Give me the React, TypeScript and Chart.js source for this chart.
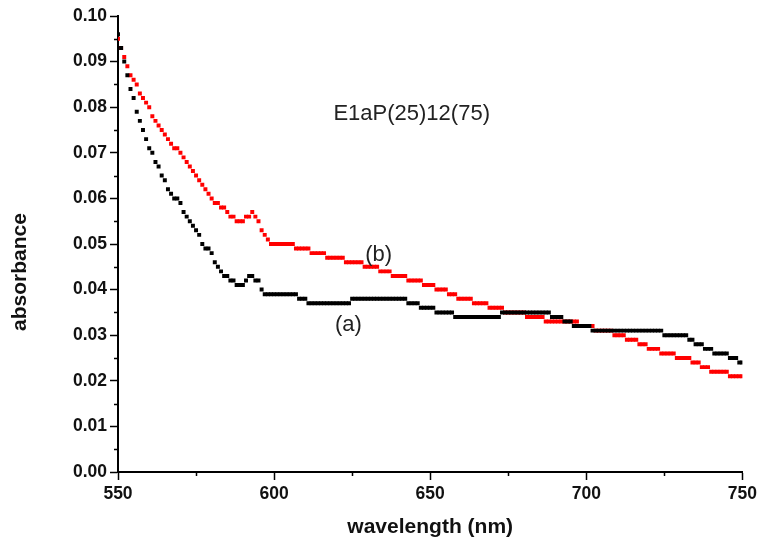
import React, { useEffect, useRef } from "react";
import { Chart, registerables } from "chart.js";

Chart.register(...registerables);

const wavelengths: number[] = [];
for (let w = 550; w <= 750; w++) wavelengths.push(w);

// (a) black series, absorbance per nm from 550 to 750
const seriesA: number[] = [
  0.096, 0.093, 0.090, 0.087, 0.084, 0.082, 0.079, 0.077, 0.075, 0.073, // 550-559
  0.071, 0.070, 0.068, 0.067, 0.065, 0.064, 0.062, 0.061, 0.060, 0.060, // 560-569
  0.059, 0.057, 0.056, 0.055, 0.054, 0.053, 0.052, 0.050, 0.049, 0.049, // 570-579
  0.048, 0.046, 0.045, 0.044, 0.043, 0.043, 0.042, 0.042, 0.041, 0.041, // 580-589
  0.041, 0.042, 0.043, 0.043, 0.042, 0.042, 0.040, 0.039, 0.039, 0.039, // 590-599
  0.039, 0.039, 0.039, 0.039, 0.039, 0.039, 0.039, 0.039, 0.038, 0.038, // 600-609
  0.038, 0.037, 0.037, 0.037, 0.037, 0.037, 0.037, 0.037, 0.037, 0.037, // 610-619
  0.037, 0.037, 0.037, 0.037, 0.037, 0.038, 0.038, 0.038, 0.038, 0.038, // 620-629
  0.038, 0.038, 0.038, 0.038, 0.038, 0.038, 0.038, 0.038, 0.038, 0.038, // 630-639
  0.038, 0.038, 0.038, 0.037, 0.037, 0.037, 0.037, 0.036, 0.036, 0.036, // 640-649
  0.036, 0.036, 0.035, 0.035, 0.035, 0.035, 0.035, 0.035, 0.034, 0.034, // 650-659
  0.034, 0.034, 0.034, 0.034, 0.034, 0.034, 0.034, 0.034, 0.034, 0.034, // 660-669
  0.034, 0.034, 0.034, 0.035, 0.035, 0.035, 0.035, 0.035, 0.035, 0.035, // 670-679
  0.035, 0.035, 0.035, 0.035, 0.035, 0.035, 0.035, 0.035, 0.035, 0.034, // 680-689
  0.034, 0.034, 0.034, 0.033, 0.033, 0.033, 0.032, 0.032, 0.032, 0.032, // 690-699
  0.032, 0.032, 0.031, 0.031, 0.031, 0.031, 0.031, 0.031, 0.031, 0.031, // 700-709
  0.031, 0.031, 0.031, 0.031, 0.031, 0.031, 0.031, 0.031, 0.031, 0.031, // 710-719
  0.031, 0.031, 0.031, 0.031, 0.031, 0.030, 0.030, 0.030, 0.030, 0.030, // 720-729
  0.030, 0.030, 0.030, 0.029, 0.029, 0.028, 0.028, 0.028, 0.027, 0.027, // 730-739
  0.027, 0.026, 0.026, 0.026, 0.026, 0.026, 0.025, 0.025, 0.025, 0.024, // 740-749
  0.024, // 750
];

// (b) red series, absorbance per nm from 550 to 750
const seriesB: number[] = [
  0.095, 0.093, 0.091, 0.089, 0.087, 0.086, 0.085, 0.083, 0.082, 0.081, // 550-559
  0.080, 0.078, 0.077, 0.076, 0.075, 0.074, 0.073, 0.072, 0.071, 0.071, // 560-569
  0.070, 0.069, 0.068, 0.067, 0.066, 0.065, 0.064, 0.063, 0.062, 0.061, // 570-579
  0.060, 0.059, 0.059, 0.058, 0.058, 0.057, 0.056, 0.056, 0.055, 0.055, // 580-589
  0.055, 0.056, 0.056, 0.057, 0.056, 0.055, 0.053, 0.052, 0.051, 0.050, // 590-599
  0.050, 0.050, 0.050, 0.050, 0.050, 0.050, 0.050, 0.049, 0.049, 0.049, // 600-609
  0.049, 0.049, 0.048, 0.048, 0.048, 0.048, 0.048, 0.047, 0.047, 0.047, // 610-619
  0.047, 0.047, 0.047, 0.046, 0.046, 0.046, 0.046, 0.046, 0.046, 0.045, // 620-629
  0.045, 0.045, 0.045, 0.045, 0.044, 0.044, 0.044, 0.044, 0.043, 0.043, // 630-639
  0.043, 0.043, 0.043, 0.042, 0.042, 0.042, 0.042, 0.042, 0.041, 0.041, // 640-649
  0.041, 0.041, 0.040, 0.040, 0.040, 0.040, 0.039, 0.039, 0.039, 0.038, // 650-659
  0.038, 0.038, 0.038, 0.038, 0.037, 0.037, 0.037, 0.037, 0.037, 0.036, // 660-669
  0.036, 0.036, 0.036, 0.036, 0.035, 0.035, 0.035, 0.035, 0.035, 0.035, // 670-679
  0.035, 0.034, 0.034, 0.034, 0.034, 0.034, 0.034, 0.033, 0.033, 0.033, // 680-689
  0.033, 0.033, 0.033, 0.033, 0.033, 0.033, 0.033, 0.033, 0.032, 0.032, // 690-699
  0.032, 0.032, 0.032, 0.031, 0.031, 0.031, 0.031, 0.031, 0.031, 0.030, // 700-709
  0.030, 0.030, 0.030, 0.029, 0.029, 0.029, 0.029, 0.028, 0.028, 0.028, // 710-719
  0.027, 0.027, 0.027, 0.027, 0.026, 0.026, 0.026, 0.026, 0.026, 0.025, // 720-729
  0.025, 0.025, 0.025, 0.025, 0.024, 0.024, 0.024, 0.023, 0.023, 0.023, // 730-739
  0.022, 0.022, 0.022, 0.022, 0.022, 0.022, 0.021, 0.021, 0.021, 0.021, // 740-749
  0.021, // 750
];

const xTicksMajor = [550, 600, 650, 700, 750];
const xTicksMinor = [575, 625, 675, 725];
const yTicksMajor = [0, 0.01, 0.02, 0.03, 0.04, 0.05, 0.06, 0.07, 0.08, 0.09, 0.1];
const yTicksMinor = [0.005, 0.015, 0.025, 0.035, 0.045, 0.055, 0.065, 0.075, 0.085, 0.095];

const xTitle = "wavelength (nm)";
const yTitle = "absorbance";

const annotations = [
  { text: "E1aP(25)12(75)", x: 619, y: 0.0785, align: "left" },
  { text: "(b)", x: 633.5, y: 0.0477, align: "center" },
  { text: "(a)", x: 623.8, y: 0.0322, align: "center" },
];

const FONT = "'Liberation Sans', Arial, sans-serif";

export default function App() {
  const ref = useRef<HTMLCanvasElement | null>(null);

  useEffect(() => {
    document.body.style.margin = "0";
    const canvas = ref.current;
    if (!canvas) return;

    const extras = {
      id: "extras",
      afterDraw(chart: any) {
        const ctx = chart.ctx;
        const xs = chart.scales.x;
        const ys = chart.scales.y;
        const area = chart.chartArea;
        ctx.save();
        ctx.strokeStyle = "#000";
        ctx.lineWidth = 1.5;
        ctx.beginPath();
        for (const v of yTicksMinor) {
          const p = Math.round(ys.getPixelForValue(v)) + 0.5;
          ctx.moveTo(area.left, p);
          ctx.lineTo(area.left - 4, p);
        }
        for (const v of xTicksMinor) {
          const p = Math.round(xs.getPixelForValue(v)) + 0.5;
          ctx.moveTo(p, area.bottom);
          ctx.lineTo(p, area.bottom + 4);
        }
        ctx.stroke();

        ctx.fillStyle = "#222";
        ctx.font = `22px ${FONT}`;
        ctx.textBaseline = "middle";
        for (const a of annotations) {
          ctx.textAlign = a.align as CanvasTextAlign;
          ctx.fillText(a.text, xs.getPixelForValue(a.x), ys.getPixelForValue(a.y));
        }

        ctx.fillStyle = "#111";
        ctx.font = `bold 21px ${FONT}`;
        ctx.textAlign = "center";
        ctx.textBaseline = "middle";
        ctx.fillText(xTitle, (area.left + area.right) / 2, 527);
        ctx.save();
        ctx.translate(20, 272);
        ctx.rotate(-Math.PI / 2);
        ctx.fillText(yTitle, 0, 0);
        ctx.restore();
        ctx.restore();
      },
    };

    const chart = new Chart(canvas, {
      type: "scatter",
      data: {
        datasets: [
          {
            label: "(a)",
            data: wavelengths.map((w, i) => ({ x: w, y: seriesA[i] })),
            backgroundColor: "#000000",
            borderColor: "#000000",
            pointStyle: "rect",
            pointRadius: 2.8,
            pointBorderWidth: 0,
            showLine: false,
          },
          {
            label: "(b)",
            data: wavelengths.map((w, i) => ({ x: w, y: seriesB[i] })),
            backgroundColor: "#ff0000",
            borderColor: "#ff0000",
            pointStyle: "rect",
            pointRadius: 2.8,
            pointBorderWidth: 0,
            showLine: false,
          },
        ],
      },
      plugins: [extras],
      options: {
        animation: false,
        responsive: false,
        devicePixelRatio: 1,
        layout: { padding: { left: 0, right: 18, top: 16, bottom: 0 } },
        plugins: {
          legend: { display: false },
          tooltip: { enabled: false },
        },
        scales: {
          x: {
            type: "linear",
            min: 550,
            max: 750,
            afterBuildTicks: (s: any) => {
              s.ticks = xTicksMajor.map((v) => ({ value: v }));
            },
            afterFit: (s: any) => {
              s.height = 74;
            },
            ticks: {
              color: "#111",
              font: { family: FONT, size: 17.5, weight: "bold" },
              padding: 4,
              maxRotation: 0,
              callback: (v: any) => String(v),
            },
            grid: {
              display: true,
              drawOnChartArea: false,
              drawTicks: true,
              tickLength: 8,
              tickWidth: 1.5,
              tickColor: "#000",
            },
            border: { display: true, color: "#000", width: 2 },
          },
          y: {
            type: "linear",
            min: 0,
            max: 0.1,
            afterBuildTicks: (s: any) => {
              s.ticks = yTicksMajor.map((v) => ({ value: v }));
            },
            afterFit: (s: any) => {
              s.width = 118;
            },
            ticks: {
              color: "#111",
              font: { family: FONT, size: 17.5, weight: "bold" },
              padding: 3,
              callback: (v: any) => Number(v).toFixed(2),
            },
            grid: {
              display: true,
              drawOnChartArea: false,
              drawTicks: true,
              tickLength: 8,
              tickWidth: 1.5,
              tickColor: "#000",
            },
            border: { display: true, color: "#000", width: 2 },
          },
        },
      },
    } as any);

    return () => chart.destroy();
  }, []);

  return <canvas ref={ref} width={761} height={546} style={{ display: "block" }} />;
}
